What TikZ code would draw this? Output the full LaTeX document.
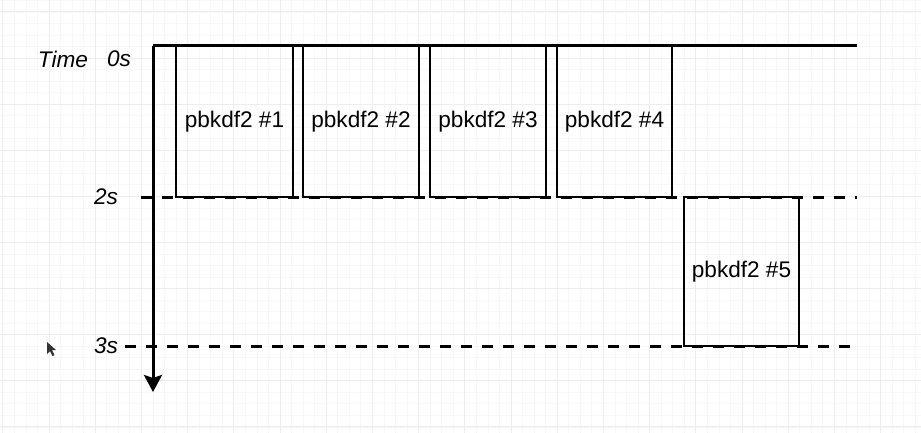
\documentclass[tikz,border=0pt]{standalone}
\usepackage{fontspec}
\setmainfont{Liberation Sans}
\usetikzlibrary{arrows.meta}
\definecolor{gridmajor}{HTML}{EDEDED}
\definecolor{gridminor}{HTML}{F7F7F7}
\begin{document}
\begin{tikzpicture}[x=1pt,y=-1pt,
  proc/.style={draw,line width=2pt,minimum width=116pt,minimum height=151pt,inner sep=0pt,outer sep=0pt,
    font=\fontsize{22.6}{26}\selectfont},
  lab/.style={inner sep=0pt,font=\itshape\fontsize{22.6}{26}\selectfont},
  dashline/.style={line width=3pt,dash pattern=on 11pt off 10pt},
  axisline/.style={line width=3pt},
  minorgrid/.style={gridminor,line width=0.8pt},
  majorgrid/.style={gridmajor,line width=1pt}]
\useasboundingbox (0,0) rectangle (921,433);
\fill[white] (0,0) rectangle (921,433);
\begin{scope}
\clip (0,0) rectangle (921,433);
\foreach \j in {-1,...,79} \draw[minorgrid] ({2.8+\j*11.55},0) -- ({2.8+\j*11.55},433);
\foreach \j in {-1,...,37} \draw[minorgrid] (0,{12+\j*11.525}) -- (921,{12+\j*11.525});
\foreach \k in {0,...,19} \draw[majorgrid] ({2.8+\k*46.2},0) -- ({2.8+\k*46.2},433);
\foreach \k in {0,...,9} \draw[majorgrid] (0,{12+\k*46.1}) -- (921,{12+\k*46.1});
\end{scope}

% cursor
\fill[black!80] (47,342) -- (47,354) -- (50,351) -- (52.5,356) -- (54.5,355) -- (52,350) -- (56,350) -- cycle;

% boxes
\node[proc,minimum width=117pt] (p1) at (234.5,121.5) {pbkdf2 \#1};
\node[proc] (p2) at (361,121.5) {pbkdf2 \#2};
\node[proc] (p3) at (488,121.5) {pbkdf2 \#3};
\node[proc,minimum width=115pt] (p4) at (614.5,121.5) {pbkdf2 \#4};
\node[proc,minimum width=115pt,minimum height=149pt] (p5) at (741.5,271.5) {pbkdf2 \#5};

% labels
\node[lab] (time) at (63,59) {Time};
\node[lab] (t0) at (119,59) {0s};
\node[lab] (t2) at (106,197) {2s};
\node[lab] (t3) at (106,346) {3s};

% coordinates
\coordinate (origin) at (153,46);
\coordinate (topend) at (857,46);
\coordinate (axisend) at (153,392);
\coordinate (d2s) at (141,197);
\coordinate (d2e) at (857,197);
\coordinate (d3s) at (125,346);
\coordinate (d3e) at (857,346);

% dashed lines
\draw[dashline] (d2s) -- (d2e);
\draw[dashline] (d3s) -- (d3e);

% axes
\draw[axisline] (topend) -- (origin);
\draw[axisline,-{Stealth[width=18pt,length=17pt,inset=3pt]}] (origin) -- (axisend);
\end{tikzpicture}
\end{document}
